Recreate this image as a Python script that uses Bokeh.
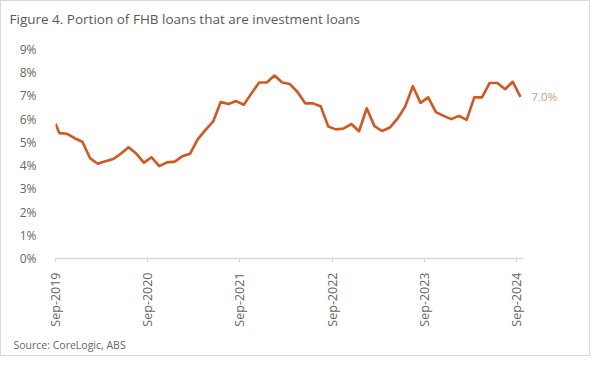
import numpy as np
from bokeh.plotting import figure
from bokeh.models import Title, FixedTicker, PrintfTickFormatter, ColumnDataSource, Range1d, LinearAxis
from bokeh.embed import file_html
from bokeh.resources import INLINE

# ---- data ----
title_text = "Figure 4. Portion of FHB loans that are investment loans"
source_text = "Source: CoreLogic, ABS"
tick_labels = ["Sep-2019", "Sep-2020", "Sep-2021", "Sep-2022", "Sep-2023", "Sep-2024"]
start_value = 5.8  # value at the very start of the series (Sep-2019 axis tick)
# monthly share of FHB loans that are investment loans, Sep-2019 .. Sep-2024 (%)
share = [5.40, 5.37, 5.18, 5.03, 4.32, 4.08, 4.19, 4.28, 4.51, 4.79, 4.52, 4.13,
         4.36, 3.98, 4.14, 4.17, 4.40, 4.51, 5.13, 5.53, 5.89, 6.74, 6.65, 6.78,
         6.62, 7.11, 7.58, 7.58, 7.88, 7.58, 7.51, 7.17, 6.68, 6.68, 6.56, 5.68,
         5.56, 5.60, 5.79, 5.48, 6.47, 5.70, 5.49, 5.64, 6.02, 6.54, 7.42, 6.70,
         6.94, 6.30, 6.14, 6.00, 6.14, 5.97, 6.94, 6.94, 7.56, 7.56, 7.29, 7.61,
         6.96]
y_ticks = [0, 1, 2, 3, 4, 5, 6, 7, 8, 9]

FONT = "Open Sans"
GREY = "#666666"
ORANGE = "#d4561e"

# month index positions: start at the Sep-2019 tick, then mid-month points
x_vals = [0.0] + [i + 0.5 for i in range(len(share))]
y_vals = [start_value] + share
src = ColumnDataSource(dict(x=x_vals, y=y_vals))
tick_pos = [12 * k for k in range(len(tick_labels))]

p = figure(width=590, height=356, output_backend="svg", toolbar_location=None,
           x_range=Range1d(0, 60.9), y_range=Range1d(0, 9),
           min_border_left=54, min_border_right=68, min_border_top=0, min_border_bottom=0)
p.styles = {"border": "1px solid #d9d9d9", "box-sizing": "border-box"}
p.outline_line_color = None
p.grid.visible = False
p.background_fill_color = "white"
p.border_fill_color = "white"

p.title = Title(text=title_text, align="left", offset=-46, standoff=13,
                text_font=FONT, text_font_size="13.5px", text_font_style="normal",
                text_color="#595959")
# blank spacer between title and plot area
p.add_layout(Title(text=" ", standoff=0, text_font=FONT, text_font_size="9px"), "above")

p.line("x", "y", source=src, line_color=ORANGE, line_width=2.6, line_join="round")

# end-of-series value label, shown as a single-tick right axis
ra = LinearAxis(ticker=FixedTicker(ticks=[share[-1]]),
                major_label_overrides={share[-1]: f"{share[-1]:.1f}%"})
ra.axis_line_color = None
ra.major_tick_line_color = None
ra.minor_tick_line_color = None
ra.major_label_text_font = FONT
ra.major_label_text_font_size = "11.5px"
ra.major_label_text_color = "#d49a78"
ra.major_label_standoff = 2
p.add_layout(ra, "right")

# x axis
xa = p.xaxis[0]
xa.ticker = FixedTicker(ticks=tick_pos)
xa.major_label_overrides = {t: lab for t, lab in zip(tick_pos, tick_labels)}
xa.major_label_orientation = np.pi / 2
xa.axis_line_color = "#d9d9d9"
xa.axis_line_width = 1.5
xa.major_tick_line_color = "#d9d9d9"
xa.major_tick_out = 4
xa.major_tick_in = 0
xa.minor_tick_line_color = None
xa.major_label_text_font = FONT
xa.major_label_text_font_size = "12.5px"
xa.major_label_text_color = GREY
xa.major_label_standoff = 10

# y axis
ya = p.yaxis[0]
ya.ticker = FixedTicker(ticks=y_ticks)
ya.formatter = PrintfTickFormatter(format="%d%%")
ya.axis_line_color = None
ya.major_tick_line_color = None
ya.minor_tick_line_color = None
ya.major_label_text_font = FONT
ya.major_label_text_font_size = "12px"
ya.major_label_text_color = GREY
ya.major_label_standoff = 13

p.add_layout(Title(text=source_text, align="left", offset=-42, standoff=12,
                   text_font=FONT, text_font_size="10.5px", text_font_style="normal",
                   text_color="#666666"), "below")

open("out.html", "w").write(file_html(p, INLINE))
